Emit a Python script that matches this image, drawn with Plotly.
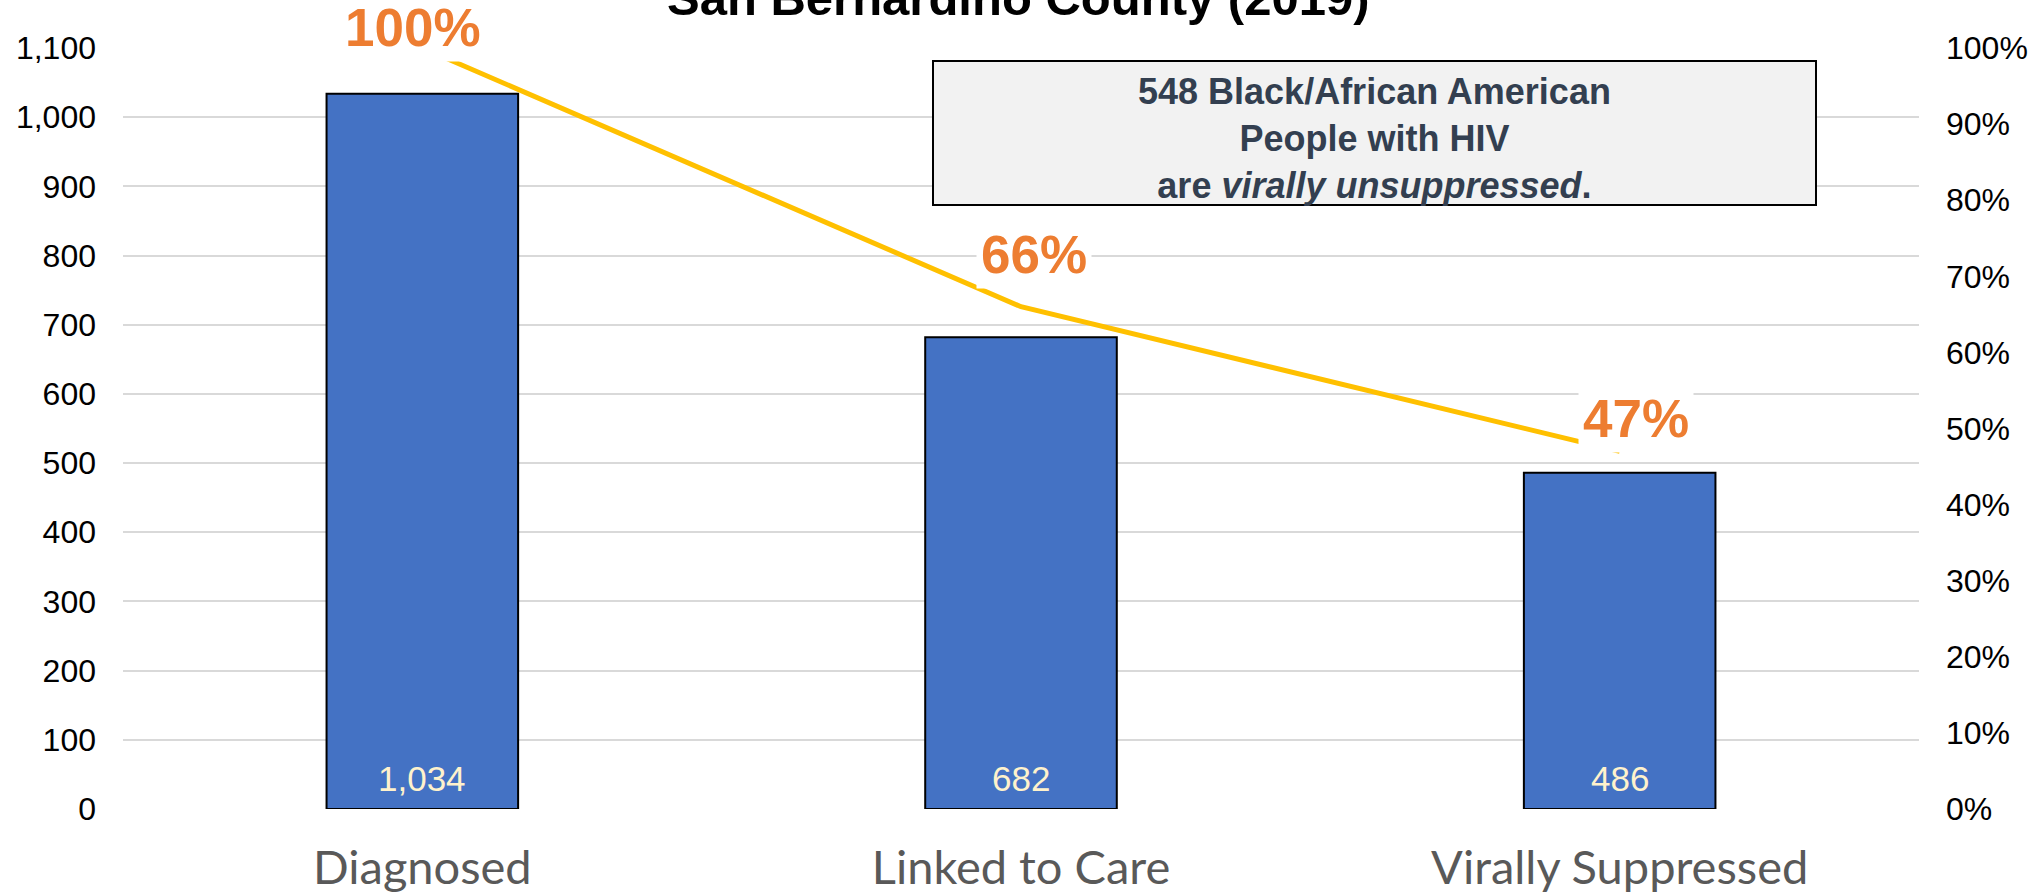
import plotly.graph_objects as go

categories = ["Diagnosed", "Linked to Care", "Virally Suppressed"]
counts = [1034, 682, 486]
pct = [1.00, 0.66, 0.47]
title_text = "San Bernardino County (2019)"
box_lines = ["548 Black/African American", "People with HIV", "are <i>virally unsuppressed</i>."]
left_ticks = list(range(0, 1101, 100))
right_ticks = [i / 10 for i in range(0, 11)]

W, H = 2043, 893
ml, mr, mt, mb = 123, 124, 48, 84

fig = go.Figure()
fig.add_trace(go.Bar(
    x=categories, y=counts, width=0.32,
    marker=dict(color="#4472C4", line=dict(color="#000000", width=2)),
    yaxis="y", showlegend=False, hoverinfo="skip",
))
fig.add_trace(go.Scatter(
    x=categories, y=pct, mode="lines",
    line=dict(color="#FFC000", width=5),
    yaxis="y2", showlegend=False, hoverinfo="skip",
))

# count labels near the bar bases
for c, n in zip(categories, counts):
    fig.add_annotation(
        x=c, y=0, xref="x", yref="y", text=f"{n:,}", showarrow=False,
        xanchor="center", yanchor="middle", yshift=31,
        font=dict(family="Liberation Sans, Arial", size=35, color="#FFF2CC"),
    )

# percentage labels with white background
shifts = [(-9, 0), (13, 32), (16, 12)]
for c, p, (dx, dy) in zip(categories, pct, shifts):
    fig.add_annotation(
        x=c, y=p, xref="x", yref="y2", text=f"<b>{p:.0%}</b>",
        showarrow=False, yanchor="bottom", xanchor="center",
        xshift=dx, yshift=dy - 14,
        font=dict(family="Liberation Sans, Arial", size=53, color="#ED7D31"),
        bgcolor="#FFFFFF", borderpad=4,
    )

# text box
bx0, bx1 = (933 - ml) / (W - ml - mr), (1816 - ml) / (W - ml - mr)
by0, by1 = (809 - 205) / (H - mt - mb), (809 - 61) / (H - mt - mb)
fig.add_shape(type="rect", xref="paper", yref="paper", x0=bx0, x1=bx1, y0=by0, y1=by1,
              fillcolor="#F2F2F2", line=dict(color="#000000", width=2), layer="above")
fig.add_annotation(
    x=(bx0 + bx1) / 2, y=(by0 + by1) / 2, xref="paper", yref="paper",
    text="<b>" + "<br>".join(box_lines) + "</b>", showarrow=False,
    xanchor="center", yanchor="middle", yshift=-5,
    font=dict(family="Liberation Sans, Arial", size=36, color="#333F50"), align="center",
)

# title (partly cut off at the top)
fig.add_annotation(
    x=0.5, y=1, xref="paper", yref="paper", text=f"<b>{title_text}</b>",
    showarrow=False, xanchor="center", yanchor="bottom", yshift=21, xshift=-3,
    font=dict(family="Liberation Sans, Arial", size=49, color="#000000"),
)

fig.update_layout(
    width=W, height=H,
    margin=dict(l=ml, r=mr, t=mt, b=mb, autoexpand=False),
    plot_bgcolor="#FFFFFF", paper_bgcolor="#FFFFFF",
    xaxis=dict(
        type="category", showgrid=False, showline=False, zeroline=False,
        ticks="", tickfont=dict(family="Lato, Open Sans", size=47, color="#595959"),
        ticklabelstandoff=27,
    ),
    yaxis=dict(
        range=[0, 1100], tickvals=left_ticks, tickformat=",", showgrid=True,
        gridcolor="#D9D9D9", gridwidth=2, zeroline=False, showline=False,
        tickfont=dict(family="Liberation Sans, Arial", size=32, color="#000000"),
        ticklabelstandoff=26,
    ),
    yaxis2=dict(
        range=[0, 1], tickvals=right_ticks, tickformat=".0%", overlaying="y", side="right",
        showgrid=False, zeroline=False, showline=False,
        tickfont=dict(family="Liberation Sans, Arial", size=32, color="#000000"),
        ticklabelstandoff=26,
    ),
)

fig.write_html("out.html", config={"displayModeBar": False},
               post_script="document.body.style.margin='0';")
